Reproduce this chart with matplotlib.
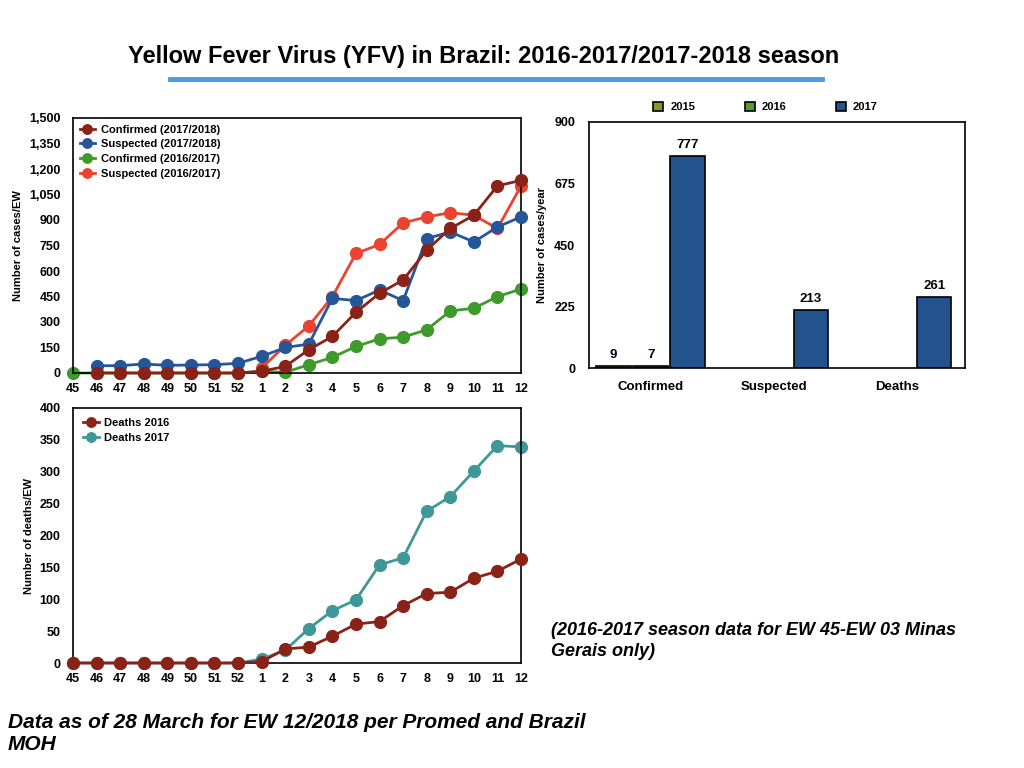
import matplotlib.pyplot as plt
from matplotlib.ticker import FuncFormatter
import numpy as np

plt.rcParams['font.family'] = ['Liberation Sans', 'DejaVu Sans']
plt.rcParams['font.weight'] = 'bold'

weeks = ["45", "46", "47", "48", "49", "50", "51", "52", "1", "2",
         "3", "4", "5", "6", "7", "8", "9", "10", "11", "12"]

nan = np.nan
conf_1718 = [nan, 0, 0, 0, 0, 0, 0, 0, 10, 39, 137, 215, 357, 469, 547, 723, 850, 928, 1101, 1133]
susp_1718 = [nan, 43, 43, 53, 45, 47, 49, 57, 98, 150, 170, 439, 426, 488, 426, 791, 830, 771, 859, 918]
conf_1617 = [0, 0, 0, 0, 0, 0, 0, 0, 10, 4, 49, 92, 156, 201, 211, 254, 365, 381, 449, 494]
susp_1617 = [nan, nan, nan, nan, nan, nan, nan, nan, 29, 162, 277, 449, 703, 756, 883, 918, 943, 928, 850, 1100]

deaths_2016 = [0, 0, 0, 0, 0, 0, 0, 0, 2, 22, 25, 42, 61, 65, 90, 109, 111, 133, 144, 163]
deaths_2017 = [0, 0, 0, 0, 0, 0, 0, 0, 6, 20, 54, 82, 99, 154, 165, 238, 261, 301, 341, 339]

bar_cats = ["Confirmed", "Suspected", "Deaths"]
bars_2015 = [9, nan, nan]
bars_2016 = [7, nan, nan]
bars_2017 = [777, 213, 261]

RED = "#8b2217"
BLUE = "#26569a"
GREEN = "#3e9a2b"
ORANGE = "#ea4430"
TEAL = "#3f9797"
MS = 8.5

fig = plt.figure(figsize=(10.24, 7.68), dpi=100)
W, H = 1024, 768


def ax_px(l, t, r, b):
    return fig.add_axes([l / W, 1 - b / H, (r - l) / W, (b - t) / H])


def style(ax, xpad=7, ypad=9):
    for s in ax.spines.values():
        s.set_linewidth(1.2)
    ax.tick_params(length=0, labelsize=9)
    ax.tick_params(axis='x', pad=xpad)
    ax.tick_params(axis='y', pad=ypad)
    for lbl in ax.get_xticklabels() + ax.get_yticklabels():
        lbl.set_fontweight('bold')


legend_kw = dict(loc='upper left', frameon=False, prop={'weight': 'bold', 'size': 8},
                 handlelength=1.4, handletextpad=0.5, labelspacing=0.42,
                 markerscale=0.8)

x = np.arange(len(weeks))

# top-left: cases per EW
ax1 = ax_px(73, 118, 521, 373)
series = [(susp_1617, ORANGE, "Suspected (2016/2017)", 1),
          (conf_1617, GREEN, "Confirmed (2016/2017)", 2),
          (susp_1718, BLUE, "Suspected (2017/2018)", 3),
          (conf_1718, RED, "Confirmed (2017/2018)", 4)]
handles = {}
for ys, c, lab, z in series:
    h, = ax1.plot(x, ys, color=c, marker='o', markersize=MS, linewidth=2,
                  label=lab, zorder=z, clip_on=False)
    handles[lab] = h
order = ["Confirmed (2017/2018)", "Suspected (2017/2018)",
         "Confirmed (2016/2017)", "Suspected (2016/2017)"]
ax1.legend([handles[k] for k in order], order, borderaxespad=0.2, **legend_kw)
ax1.set_xlim(0, len(weeks) - 1)
ax1.set_ylim(0, 1500)
ax1.set_yticks(np.arange(0, 1501, 150))
ax1.yaxis.set_major_formatter(FuncFormatter(lambda v, p: f"{int(v):,}"))
ax1.set_xticks(x)
ax1.set_xticklabels(weeks)
ax1.set_ylabel("Number of cases/EW", fontsize=8, fontweight='bold', labelpad=4)
style(ax1)

# bottom-left: deaths per EW
ax2 = ax_px(73, 408, 521, 663)
ax2.plot(x, deaths_2017, color=TEAL, marker='o', markersize=MS, linewidth=2,
         label="Deaths 2017", zorder=2, clip_on=False)
ax2.plot(x, deaths_2016, color=RED, marker='o', markersize=MS, linewidth=2,
         label="Deaths 2016", zorder=3, clip_on=False)
hs, ls = ax2.get_legend_handles_labels()
ax2.legend(hs[::-1], ls[::-1], borderaxespad=0.5, **legend_kw)
ax2.set_xlim(0, len(weeks) - 1)
ax2.set_ylim(0, 400)
ax2.set_yticks(np.arange(0, 401, 50))
ax2.set_xticks(x)
ax2.set_xticklabels(weeks)
ax2.set_ylabel("Number of deaths/EW", fontsize=8, fontweight='bold', labelpad=4)
style(ax2)

# top-right: bar chart
ax3 = ax_px(589, 122, 965, 368)
bx = np.arange(len(bar_cats))
bw = 0.28
for vals, off, c, lab in [(bars_2015, -0.3, "#8f922d", "2015"),
                          (bars_2016, 0.0, "#5a9a30", "2016"),
                          (bars_2017, 0.3, "#24528c", "2017")]:
    ax3.bar(bx + off, vals, width=bw, color=c, edgecolor='black',
            linewidth=1.2, label=lab)
    for xi, v in zip(bx + off, vals):
        if not np.isnan(v):
            ax3.text(xi, v + 18, f"{int(v)}", ha='center', va='bottom',
                     fontsize=9.5, fontweight='bold')
ax3.set_xlim(-0.5, 2.55)
ax3.set_ylim(0, 900)
ax3.set_yticks([0, 225, 450, 675, 900])
ax3.set_xticks(bx)
ax3.set_xticklabels(bar_cats)
ax3.set_ylabel("Number of cases/year", fontsize=8, fontweight='bold', labelpad=5)
ax3.legend(loc='lower center', bbox_to_anchor=(0.47, 1.0), ncol=3, frameon=False,
           prop={'weight': 'bold', 'size': 8}, handlelength=0.9, handleheight=0.9,
           columnspacing=4.5, handletextpad=0.6)
style(ax3, xpad=9, ypad=10)
ax3.tick_params(axis='x', labelsize=9.5)

# title and underline
fig.text(484 / W, 1 - 56 / H, "Yellow Fever Virus (YFV) in Brazil: 2016-2017/2017-2018 season",
         ha='center', va='center', fontsize=17, fontweight='bold')
fig.add_artist(plt.Line2D([170 / W, 822 / W], [1 - 79 / H, 1 - 79 / H],
                          color="#4a9be6", linewidth=3.5))

fig.text(551 / W, 1 - 641 / H, "(2016-2017 season data for EW 45-EW 03 Minas\nGerais only)",
         ha='left', va='center', fontsize=13, fontweight='bold', style='italic',
         linespacing=1.35)
fig.text(8 / W, 1 - 733 / H, "Data as of 28 March for EW 12/2018 per Promed and Brazil\nMOH",
         ha='left', va='center', fontsize=15, fontweight='bold', style='italic',
         linespacing=1.2)

fig.savefig("out.png", dpi=100)
